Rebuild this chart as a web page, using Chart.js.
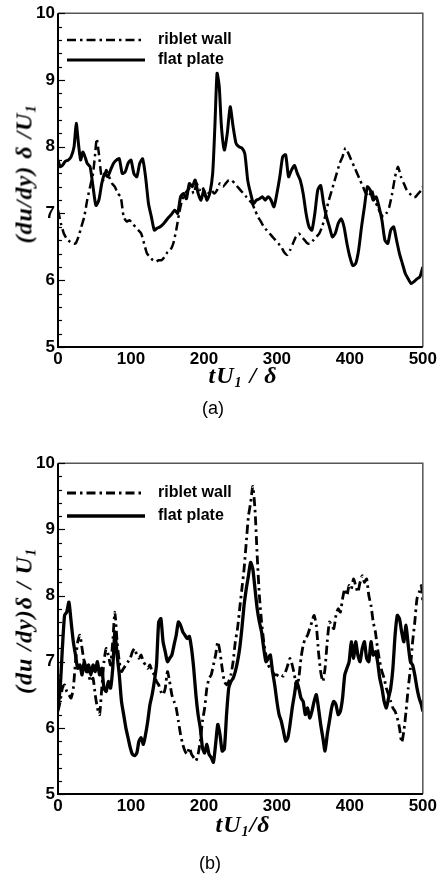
<!DOCTYPE html>
<html>
<head>
<meta charset="utf-8">
<script src="https://cdn.jsdelivr.net/npm/chart.js@4.4.1/dist/chart.umd.min.js"></script>
<style>
  html, body { margin: 0; padding: 0; background: #fff; }
  #page { position: relative; width: 439px; height: 879px; overflow: hidden; background: #fff; }
  canvas { position: absolute; left: 0; }
  .xt, .yt { position: absolute; font: italic bold 24px "Liberation Serif", "DejaVu Serif", serif; color: #000; white-space: nowrap; line-height: 1; letter-spacing: 1px; }
  .xt { transform: translate(-50%, -50%); }
  .yt { transform: translate(-50%, -50%) rotate(-90deg); }
  .xt sub, .yt sub { font-size: 14px; vertical-align: -4px; }
  .cap { position: absolute; transform: translate(-50%, -50%); font: 18px "Liberation Sans", Arial, sans-serif; color: #000; }
</style>
</head>
<body>
<div id="page">
  <canvas id="chartA" width="439" height="395" style="top:0"></canvas>
  <div class="yt" style="left:25px; top:174px">(du/dy) δ /U<sub>1</sub></div>
  <div class="xt" style="left:243px; top:376px">tU<sub>1</sub> / δ</div>
  <div class="cap" style="left:213px; top:408px">(a)</div>

  <canvas id="chartB" width="439" height="395" style="top:450px"></canvas>
  <div class="yt" style="left:25px; top:621px">(du /dy)δ / U<sub>1</sub></div>
  <div class="xt" style="left:243px; top:825px">tU<sub>1</sub>/δ</div>
  <div class="cap" style="left:210px; top:863px">(b)</div>
</div>

<script>
// series names and axis ticks
const seriesNames = ['riblet wall', 'flat plate'];
const xTicks = [0, 100, 200, 300, 400, 500];
const yTicks = [5, 6, 7, 8, 9, 10];

// (a) riblet wall
const aRibletT = [0,4,8,12,16,20,24,28,32,36,40,44,48,51,53,56,59,62,
  66,70,74,78,82,86,90,94,98,102,106,110,114,118,122,126,130,134,138,142,
  146,150,154,158,162,166,170,174,178,182,186,190,194,198,202,206,210,214,218,222,
  226,230,234,238,242,246,250,254,258,262,266,270,274,278,282,286,290,294,298,302,
  306,310,314,318,322,326,330,334,338,342,346,350,354,358,362,366,370,374,378,382,
  386,390,394,398,402,406,410,414,418,422,426,430,434,438,442,446,450,454,458,462,
  466,470,474,478,482,486,490,494,498,500];
const aRibletV = [7.05,6.85,6.7,6.62,6.58,6.55,6.55,6.65,6.8,6.95,7.2,7.4,7.6,7.9,8.12,7.9,7.6,7.5,
  7.65,7.55,7.45,7.4,7.3,7.25,6.95,6.88,6.9,6.85,6.8,6.75,6.7,6.55,6.4,6.35,6.3,6.28,6.3,6.3,
  6.35,6.42,6.45,6.55,6.75,7.0,7.2,7.3,7.35,7.4,7.3,7.45,7.35,7.4,7.25,7.3,7.35,7.3,7.35,7.45,
  7.4,7.45,7.5,7.5,7.45,7.4,7.35,7.3,7.25,7.2,7.15,7.05,6.95,6.88,6.8,6.75,6.7,6.65,6.6,6.55,
  6.5,6.42,6.38,6.45,6.55,6.65,6.7,6.65,6.6,6.55,6.55,6.6,6.65,6.7,6.8,6.95,7.15,7.3,7.45,7.6,
  7.75,7.85,7.98,7.9,7.8,7.7,7.6,7.5,7.4,7.3,7.25,7.35,7.2,7.1,7.0,6.95,7.0,7.1,7.3,7.55,
  7.7,7.55,7.45,7.35,7.3,7.25,7.25,7.3,7.35,7.4];

// (a) flat plate
const aFlatT = [0,3,6,10,14,18,22,25,28,31,34,37,40,44,48,52,56,60,64,68,
  72,76,80,84,88,92,96,100,104,108,112,116,120,124,128,132,136,140,145,150,
  155,160,164,168,172,176,180,184,188,192,196,200,204,208,212,215,218,221,224,228,
  232,236,240,244,248,252,256,260,264,268,272,276,280,284,288,292,296,300,304,308,
  312,316,320,324,328,332,336,340,344,348,352,356,360,364,368,372,376,380,384,388,
  392,396,400,404,408,412,416,420,424,428,432,436,440,444,448,452,456,460,464,468,
  472,476,480,484,488,492,496,500];
const aFlatV = [7.8,7.7,7.72,7.78,7.8,7.85,8.0,8.35,8.05,7.8,7.92,7.85,7.75,7.7,7.4,7.12,7.2,7.45,7.6,7.55,
  7.65,7.75,7.8,7.82,7.6,7.62,7.75,7.8,7.6,7.55,7.75,7.82,7.55,7.15,6.95,6.75,6.78,6.8,6.85,6.92,
  6.98,7.05,7.0,7.25,7.3,7.22,7.45,7.4,7.5,7.3,7.2,7.35,7.2,7.3,7.6,8.3,9.1,8.9,8.3,7.95,
  8.2,8.6,8.3,8.05,8.0,7.98,7.9,7.5,7.3,7.15,7.2,7.22,7.25,7.2,7.25,7.2,7.1,7.3,7.55,7.85,
  7.88,7.55,7.65,7.72,7.6,7.5,7.3,7.0,6.8,6.75,7.0,7.35,7.42,7.15,6.95,6.8,6.65,6.7,6.85,6.92,
  6.8,6.55,6.35,6.22,6.25,6.45,6.8,7.1,7.4,7.35,7.2,7.25,7.1,6.9,6.6,6.55,6.75,6.8,6.6,6.4,
  6.25,6.1,6.02,5.95,5.98,6.02,6.05,6.2];

// (b) time samples, shared by both series
const bTime = [0,3,6,9,12,15,18,21,24,27,30,33,36,39,42,45,48,51,54,57,
  60,63,66,69,72,75,78,81,84,87,90,93,96,99,102,105,108,111,114,117,
  120,123,126,129,132,135,138,141,144,147,150,153,156,159,162,165,168,171,174,177,
  180,183,186,189,192,195,198,201,204,207,210,213,216,219,222,225,228,231,234,237,
  240,243,246,249,252,255,258,261,264,267,270,273,276,279,282,285,288,291,294,297,
  300,303,306,309,312,315,318,321,324,327,330,333,336,339,342,345,348,351,354,357,
  360,363,366,369,372,375,378,381,384,387,390,393,396,399,402,405,408,411,414,417,
  420,423,426,429,432,435,438,441,444,447,450,453,456,459,462,465,468,471,474,477,
  480,483,486,489,492,495,498,500];

// (b) riblet wall
const bRibletV = [6.25,6.4,6.6,6.65,6.55,6.5,6.45,6.6,7.0,7.3,7.4,7.2,7.0,6.95,6.8,6.7,6.75,6.5,6.3,6.2,
  6.6,7.0,7.2,7.1,6.95,7.3,7.75,7.3,7.0,6.85,6.9,6.95,7.0,7.05,7.15,7.2,7.1,7.05,7.1,7.0,
  6.95,6.9,6.95,6.85,6.8,6.7,6.65,6.55,6.5,6.6,6.85,6.7,6.5,6.4,6.3,6.1,5.9,5.75,5.65,5.6,
  5.7,5.6,5.55,5.5,5.6,5.8,6.1,6.3,6.6,6.75,6.8,6.95,7.1,7.3,7.15,6.9,6.7,6.65,6.7,6.8,
  7.0,7.3,7.5,7.8,8.1,8.4,8.8,9.2,9.4,9.65,9.3,8.6,8.0,7.6,7.3,7.1,6.95,6.9,6.85,6.8,
  6.8,6.78,6.8,6.78,6.85,6.95,7.05,6.95,6.8,6.6,6.75,7.05,7.25,7.35,7.4,7.5,7.6,7.7,7.55,7.15,
  6.85,6.7,6.9,7.3,7.6,7.55,7.5,7.7,7.8,7.75,7.95,8.1,8.0,8.15,8.1,8.25,8.15,8.05,8.2,8.3,
  8.2,8.25,8.0,7.85,7.6,7.45,7.2,7.0,6.85,6.75,6.6,6.5,6.4,6.3,6.25,6.15,6.0,5.78,5.95,6.25,
  6.6,6.9,7.3,7.6,7.95,8.05,8.15,7.9];

// (b) flat plate
const bFlatV = [6.3,6.6,7.2,7.7,7.75,7.9,7.6,7.3,7.1,6.9,6.95,6.8,7.0,6.85,6.95,6.8,6.95,6.85,7.0,6.8,
  6.9,6.6,6.55,6.7,6.6,6.9,7.45,7.1,6.8,6.4,6.2,6.0,5.85,5.7,5.6,5.58,5.62,5.8,5.85,5.75,
  5.9,6.1,6.35,6.5,6.7,6.95,7.6,7.65,7.3,7.15,7.0,7.05,7.1,7.25,7.4,7.6,7.55,7.45,7.4,7.35,
  7.38,7.2,6.9,6.5,6.2,6.0,5.7,5.62,5.75,5.6,5.55,5.48,5.75,6.05,5.9,5.65,5.68,6.2,6.6,6.7,
  6.75,6.85,7.0,7.2,7.5,7.85,8.1,8.3,8.5,8.4,8.1,7.8,7.6,7.45,7.2,7.0,7.05,7.1,6.85,6.65,
  6.4,6.2,6.1,5.95,5.8,5.85,6.05,6.3,6.5,6.7,6.6,6.45,6.4,6.2,6.3,6.15,6.25,6.4,6.5,6.3,
  6.05,5.85,5.65,5.9,6.1,6.3,6.4,6.35,6.2,6.25,6.45,6.8,6.9,7.0,7.3,7.05,7.3,7.1,7.0,7.2,
  7.3,7.05,7.0,7.3,7.1,7.15,7.0,6.75,6.6,6.4,6.3,6.45,6.6,6.9,7.4,7.7,7.65,7.45,7.3,7.55,
  7.25,7.0,6.95,6.8,6.6,6.45,6.35,6.25];

const pts = (ts, vs) => ts.map((t, i) => ({ x: t, y: vs[i] }));

// frame, inward ticks on the left axis and the legend inside the plot
const framePlugin = {
  id: 'frame',
  afterDatasetsDraw(chart, args, opts) {
    const { ctx, chartArea: a, scales } = chart;
    const y = scales.y;
    ctx.save();
    ctx.lineCap = 'butt';
    ctx.strokeStyle = '#555';
    ctx.lineWidth = 1.5;
    ctx.beginPath();
    ctx.moveTo(a.left, a.top); ctx.lineTo(a.right, a.top); ctx.lineTo(a.right, a.bottom);
    ctx.stroke();
    ctx.strokeStyle = '#000';
    ctx.lineWidth = 2;
    ctx.beginPath();
    ctx.moveTo(a.left, a.top); ctx.lineTo(a.left, a.bottom); ctx.lineTo(a.right, a.bottom);
    ctx.stroke();
    ctx.lineWidth = 1.2;
    for (let i = 0; i <= 25; i++) {
      const py = Math.round(y.getPixelForValue(yTicks[0] + i * 0.2)) + 0.5;
      const len = i % 5 === 0 ? 7 : 4;
      ctx.beginPath(); ctx.moveTo(a.left, py); ctx.lineTo(a.left + len, py); ctx.stroke();
    }
    // legend
    ctx.font = 'bold 16px "Liberation Sans", Arial, sans-serif';
    ctx.textBaseline = 'middle';
    ctx.fillStyle = '#000';
    chart.data.datasets.forEach((ds, i) => {
      const ly = opts.legendY[i];
      ctx.strokeStyle = '#000';
      ctx.lineWidth = ds.borderWidth;
      ctx.setLineDash(ds.borderDash || []);
      ctx.beginPath(); ctx.moveTo(67, ly); ctx.lineTo(145, ly); ctx.stroke();
      ctx.setLineDash([]);
      ctx.fillText(ds.label, 158, ly);
    });
    ctx.restore();
  }
};

function makeChart(id, ribletT, ribletV, flatT, flatV, padTop, xHeight, legendY, lw) {
  return new Chart(document.getElementById(id), {
    type: 'line',
    data: {
      datasets: [
        { label: seriesNames[0], data: pts(ribletT, ribletV), borderColor: '#000', borderWidth: lw - 0.5,
          borderDash: [9, 4, 2.5, 4], pointRadius: 0, tension: 0.2, fill: false },
        { label: seriesNames[1], data: pts(flatT, flatV), borderColor: '#000', borderWidth: lw,
          pointRadius: 0, tension: 0.2, fill: false }
      ]
    },
    options: {
      responsive: false,
      animation: false,
      layout: { padding: { top: padTop, right: 15, left: 0, bottom: 0 } },
      plugins: {
        legend: { display: false },
        tooltip: { enabled: false },
        frame: { legendY: legendY }
      },
      scales: {
        x: {
          type: 'linear', min: xTicks[0], max: xTicks[xTicks.length - 1],
          afterBuildTicks: s => { s.ticks = xTicks.map(v => ({ value: v })); },
          afterFit: s => { s.height = xHeight; },
          grid: { display: false, drawTicks: false }, border: { display: false },
          ticks: { autoSkip: false, maxRotation: 0, padding: 2, color: '#000',
                   font: { family: '"Liberation Sans", Arial, sans-serif', size: 17, weight: 'bold' } }
        },
        y: {
          min: yTicks[0], max: yTicks[yTicks.length - 1],
          afterBuildTicks: s => { s.ticks = yTicks.map(v => ({ value: v })); },
          afterFit: s => { s.width = 58; },
          grid: { display: false, drawTicks: false }, border: { display: false },
          ticks: { padding: 3, color: '#000',
                   font: { family: '"Liberation Sans", Arial, sans-serif', size: 17, weight: 'bold' } }
        }
      }
    },
    plugins: [framePlugin]
  });
}

makeChart('chartA', aRibletT, aRibletV, aFlatT, aFlatV, 12, 48, [40, 60], 3);
makeChart('chartB', bTime, bRibletV, bTime, bFlatV, 11, 51, [43, 66], 3.3);
</script>
</body>
</html>
